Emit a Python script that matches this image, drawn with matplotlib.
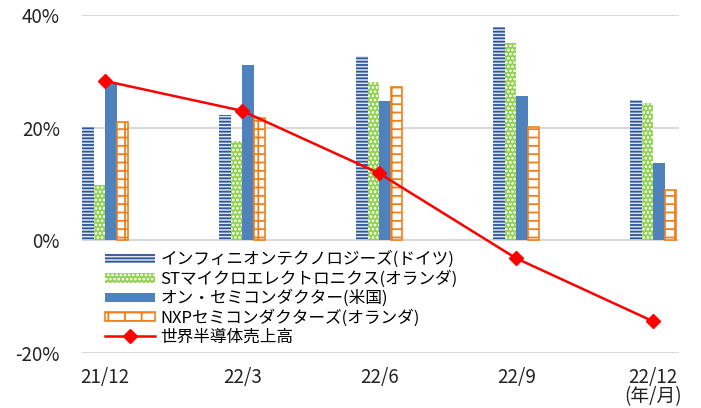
import numpy as np
import matplotlib
matplotlib.use("Agg")
import matplotlib.pyplot as plt

plt.rcParams['font.family'] = ['Noto Sans CJK JP', 'DejaVu Sans']
plt.rcParams['hatch.linewidth'] = 1.3

# data (%)
periods = ["21/12", "22/3", "22/6", "22/9", "22/12\n(年/月)"]
infineon = [20.1, 22.2, 32.8, 37.8, 25.0]
stmicro = [9.9, 17.6, 28.2, 35.1, 24.3]
onsemi = [27.7, 31.2, 24.8, 25.7, 13.8]
nxp = [21.1, 21.8, 27.3, 20.2, 8.9]
world = [28.3, 23.0, 11.9, -3.2, -14.4]

labels = ["インフィニオンテクノロジーズ(ドイツ)",
          "STマイクロエレクトロニクス(オランダ)",
          "オン・セミコンダクター(米国)",
          "NXPセミコンダクターズ(オランダ)",
          "世界半導体売上高"]

fig = plt.figure(figsize=(7.01, 4.08), dpi=100)
ax = fig.add_axes([0.117, 0.135, 0.852, 0.828])

x = np.arange(len(periods))
w = 0.084

b1 = ax.bar(x - 1.5*w, infineon, w, color='#dbe5f3', edgecolor='#2f5597',
            hatch='-----', linewidth=0, label=labels[0], zorder=2)
b2 = ax.bar(x - 0.5*w, stmicro, w, color='#92d050', edgecolor='white',
            hatch='....', linewidth=0, label=labels[1], zorder=2)
b3 = ax.bar(x + 0.5*w, onsemi, w, color='#4f81bd', linewidth=0,
            label=labels[2], zorder=2)
b4 = ax.bar(x + 1.5*w, nxp, w, color='white', edgecolor='#f07f1a',
            hatch='+-', linewidth=1.2, label=labels[3], zorder=2)
ln, = ax.plot(x, world, color='#ff0000', lw=1.8, marker='D', markersize=7.5,
              label=labels[4], zorder=3)

ax.set_ylim(-20, 40)
ax.set_xlim(-0.168, 4.19)
ax.set_yticks([-20, 0, 20, 40])
ax.set_yticklabels(["-20%", "0%", "20%", "40%"])
ax.set_xticks(x)
ax.set_xticklabels(periods, linespacing=0.9)
ax.tick_params(length=0, labelsize=13.5, colors='#222222')
ax.tick_params(axis='y', pad=16)
ax.tick_params(axis='x', pad=10)
ax.yaxis.grid(True, color='#d9d9d9', lw=1.5, zorder=0)
ax.set_axisbelow(True)
for s in ax.spines.values():
    s.set_visible(False)

leg = ax.legend([b1, b2, b3, b4, ln], labels,
                loc='upper left', bbox_to_anchor=(0.150, 0.385),
                bbox_transform=fig.transFigure, frameon=False,
                fontsize=12, borderpad=0, borderaxespad=0,
                labelspacing=0.12, handlelength=3.0, handletextpad=0.3,
                handleheight=0.5)

fig.savefig("out.png", dpi=100)
